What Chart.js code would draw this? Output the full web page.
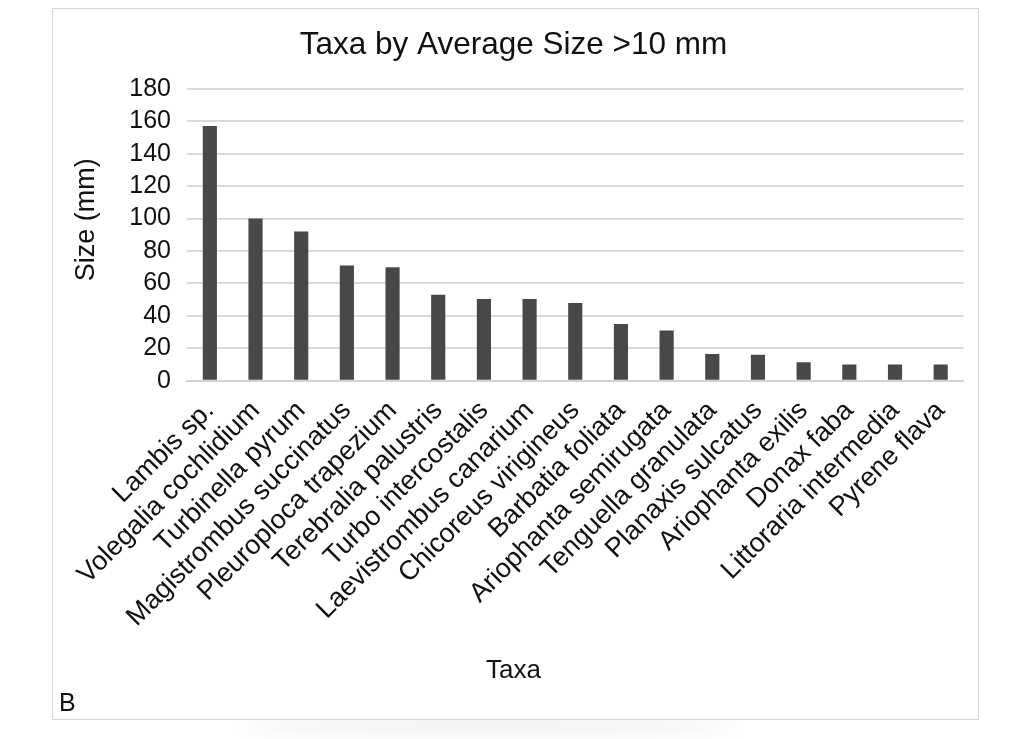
<!DOCTYPE html>
<html>
<head>
<meta charset="utf-8">
<script src="https://cdn.jsdelivr.net/npm/chart.js@4.4.1/dist/chart.umd.min.js"></script>
<style>
  body { margin: 0; background: #fff; width: 1024px; height: 739px; position: relative; overflow: hidden; }
  #caja {
    position: absolute; left: 52px; top: 8px; width: 927px; height: 712px;
    border: 1px solid #d6d6d6; box-sizing: border-box; background: #fff; z-index: 2;
  }
  #sombra {
    position: absolute; left: 240px; top: 704px; width: 500px; height: 16px;
    box-shadow: 0 14px 18px rgba(0,0,0,0.07); border-radius: 50%; z-index: 1;
  }
  #letra {
    position: absolute; left: 6px; top: 679px; font: 25px "Liberation Sans", Arial, sans-serif; color: #111;
  }
  canvas { display: block; }
</style>
</head>
<body>
<div id="sombra"></div>
<div id="caja">
  <canvas id="grafico" width="925" height="710"></canvas>
  <div id="letra">B</div>
</div>
<script>
// Dados
const taxa = ['Lambis sp.', 'Volegalia cochlidium', 'Turbinella pyrum', 'Magistrombus succinatus',
  'Pleuroploca trapezium', 'Terebralia palustris', 'Turbo intercostalis', 'Laevistrombus canarium',
  'Chicoreus virigineus', 'Barbatia foliata', 'Ariophanta semirugata', 'Tenguella granulata',
  'Planaxis sulcatus', 'Ariophanta exilis', 'Donax faba', 'Littoraria intermedia', 'Pyrene flava'];
const tamanhos = [157, 100, 92, 71, 70, 53, 50.5, 50.5, 48, 35, 31, 16.5, 16, 11.5, 10, 10, 10];
const yMin = 0, yMax = 180, yPasso = 20;
const tituloY = 'Size (mm)';

const fonte = '"Liberation Sans", Arial, sans-serif';

// Título do eixo y: no original fica um pouco acima do meio do eixo
const tituloEixoY = {
  id: 'tituloEixoY',
  afterDraw(chart) {
    const y = chart.scales.y;
    const c = chart.ctx;
    c.save();
    c.font = '27px ' + fonte;
    c.fillStyle = '#111';
    c.textAlign = 'center';
    c.textBaseline = 'middle';
    c.translate(y.left + 24, (y.top + y.bottom) / 2 - 15);
    c.rotate(-Math.PI / 2);
    c.fillText(tituloY, 0, 0);
    c.restore();
  }
};

const ctx = document.getElementById('grafico').getContext('2d');
new Chart(ctx, {
  type: 'bar',
  data: {
    labels: taxa,
    datasets: [{
      label: tituloY,
      data: tamanhos,
      backgroundColor: '#484848',
      borderWidth: 0,
      barPercentage: 0.31,
      categoryPercentage: 1
    }]
  },
  plugins: [tituloEixoY],
  options: {
    responsive: false,
    animation: false,
    layout: { padding: { left: 10, right: 14, top: 0, bottom: 0 } },
    plugins: {
      legend: { display: false },
      tooltip: { enabled: false },
      title: {
        display: true,
        text: 'Taxa by Average Size >10 mm',
        color: '#111',
        font: { family: fonte, size: 31.5, weight: 'normal' },
        padding: { top: 17, bottom: 25 }
      },
      // título do eixo x centrado na caixa inteira, como no original
      subtitle: {
        display: true,
        position: 'bottom',
        text: 'Taxa',
        color: '#111',
        font: { family: fonte, size: 26 },
        padding: { top: 0, bottom: 33 }
      }
    },
    scales: {
      x: {
        grid: { display: false, drawTicks: false },
        border: { display: true, color: '#d3d3d3', width: 2 },
        ticks: {
          color: '#111',
          font: { family: fonte, size: 27 },
          minRotation: 45,
          maxRotation: 45,
          padding: 14,
          autoSkip: false
        },
        afterFit: function (escala) { escala.height = 274; }
      },
      y: {
        min: yMin,
        max: yMax,
        grid: { color: '#d9d9d9', lineWidth: 2, drawTicks: false },
        border: { display: false },
        ticks: {
          stepSize: yPasso,
          autoSkip: false,
          color: '#111',
          font: { family: fonte, size: 25 },
          padding: 16
        },
        afterFit: function (escala) { escala.width = 124; }
      }
    }
  }
});
</script>
</body>
</html>
